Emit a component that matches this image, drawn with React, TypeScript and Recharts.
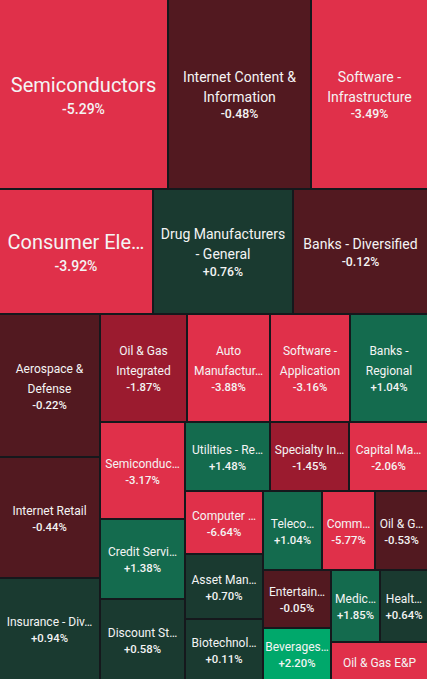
import { Treemap } from "recharts";

const W = 427;
const H = 679;

const names = [
  "Semiconductors",
  "Internet Content & Information",
  "Software - Infrastructure",
  "Consumer Electronics",
  "Drug Manufacturers - General",
  "Banks - Diversified",
  "Aerospace & Defense",
  "Internet Retail",
  "Insurance - Diversified",
  "Oil & Gas Integrated",
  "Auto Manufacturers",
  "Software - Application",
  "Banks - Regional",
  "Semiconductor Equipment & Materials",
  "Credit Services",
  "Discount Stores",
  "Utilities - Regulated Electric",
  "Specialty Industrial Machinery",
  "Capital Markets",
  "Computer Hardware",
  "Asset Management",
  "Biotechnology",
  "Telecom Services",
  "Communication Equipment",
  "Oil & Gas Midstream",
  "Entertainment",
  "Beverages - Non-Alcoholic",
  "Medical Devices",
  "Healthcare Plans",
  "Oil & Gas E&P",
];

// label lines as they appear in the tiles
const labels: string[][] = [
  ["Semiconductors"],
  ["Internet Content &", "Information"],
  ["Software -", "Infrastructure"],
  ["Consumer Ele…"],
  ["Drug Manufacturers", "- General"],
  ["Banks - Diversified"],
  ["Aerospace &", "Defense"],
  ["Internet Retail"],
  ["Insurance - Div…"],
  ["Oil & Gas", "Integrated"],
  ["Auto", "Manufactur…"],
  ["Software -", "Application"],
  ["Banks -", "Regional"],
  ["Semiconduc…"],
  ["Credit Servi…"],
  ["Discount St…"],
  ["Utilities - Re…"],
  ["Specialty In…"],
  ["Capital Ma…"],
  ["Computer …"],
  ["Asset Man…"],
  ["Biotechnol…"],
  ["Teleco…"],
  ["Comm…"],
  ["Oil & G…"],
  ["Entertain…"],
  ["Beverages…"],
  ["Medic…"],
  ["Healt…"],
  ["Oil & Gas E&P"],
];

// relative tile sizes
const sizes = [
  3174, 2700, 2217, 1916, 1748, 1694, 1433, 1207, 1000, 939, 891, 863, 848,
  828, 680, 666, 587, 547, 536, 495, 506, 474, 466, 415, 413, 394, 344, 352,
  339, 320,
];

// daily change, %
const changes: (number | null)[] = [
  -5.29, -0.48, -3.49, -3.92, 0.76, -0.12, -0.22, -0.44, 0.94, -1.87, -3.88,
  -3.16, 1.04, -3.17, 1.38, 0.58, 1.48, -1.45, -2.06, -6.64, 0.7, 0.11, 1.04,
  -5.77, -0.53, -0.05, 2.2, 1.85, 0.64, -3.0,
];

const data = names.map((name, i) => ({
  name,
  size: sizes[i],
  change: changes[i],
  lines: labels[i],
}));

function colorFor(c: number) {
  if (c <= -2) return "#e0304a";
  if (c <= -1) return "#9b1b2f";
  if (c < 0) return "#521920";
  if (c < 1) return "#1a3a30";
  if (c < 2) return "#146b4e";
  return "#00a86b";
}

function fmt(c: number) {
  return (c > 0 ? "+" : "") + c.toFixed(2) + "%";
}

function Tile(props: any) {
  const { x, y, width, height, depth, lines, change } = props;
  if (depth === 0) {
    return <rect x={x} y={y} width={width} height={height} fill="#15181c" />;
  }
  const left = x <= 0 ? 0 : x + 1;
  const top = y <= 0 ? 0 : y + 1;
  const right = x + width >= W - 0.5 ? W : x + width - 1;
  const bottom = y + height >= H - 0.5 ? H : y + height - 1;
  const cx = (left + right) / 2;
  const cy = (top + bottom) / 2;
  const big = width >= 150 && height >= 120;
  const wide = width >= 110;
  const nameSize = big ? 20 : wide ? 14 : 12;
  const pctSize = big ? 14 : wide ? 12.3 : 11.3;
  const lineGap = 20;
  const pctGap = big ? 24 : wide ? 17.5 : 16.3;
  const showPct = change != null && height >= 45;
  const n = lines ? lines.length : 0;
  const block = (n - 1) * lineGap + (showPct ? pctGap : 0);
  const start = cy - block / 2 + (big ? 2.5 : 1.5);

  return (
    <g>
      <rect
        x={left}
        y={top}
        width={right - left}
        height={bottom - top}
        fill={colorFor(change ?? 0)}
      />
      {(lines || []).map((t: string, i: number) => (
        <text
          key={i}
          x={cx}
          y={start + i * lineGap}
          textAnchor="middle"
          dominantBaseline="central"
          fontSize={nameSize}
          fill="#f4f4f4"
        >
          {t}
        </text>
      ))}
      {showPct && (
        <text
          x={cx}
          y={start + (n - 1) * lineGap + pctGap}
          textAnchor="middle"
          dominantBaseline="central"
          fontSize={pctSize}
          fontWeight={500}
          fill="#f4f4f4"
        >
          {fmt(change)}
        </text>
      )}
    </g>
  );
}

export default function App() {
  return (
    <div style={{ width: W, height: H, fontFamily: "Roboto, sans-serif" }}>
      <style>{"body{margin:0;overflow:hidden}"}</style>
      <Treemap
        width={W}
        height={H}
        data={data}
        dataKey="size"
        nameKey="name"
        aspectRatio={1.04}
        isAnimationActive={false}
        content={<Tile />}
      />
    </div>
  );
}
